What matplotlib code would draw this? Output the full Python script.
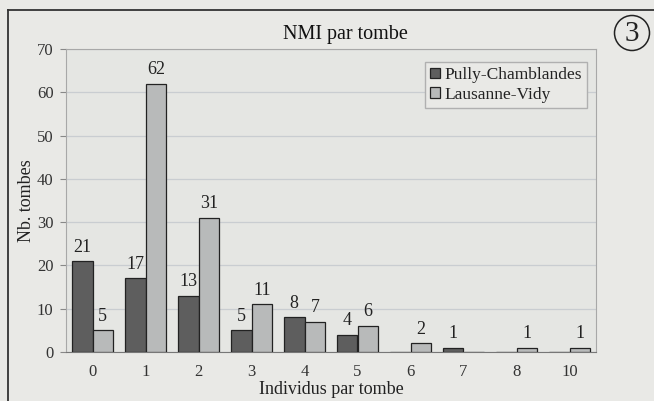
import matplotlib
matplotlib.use("Agg")
from matplotlib import pyplot as plt
from matplotlib.lines import Line2D
from matplotlib.patches import Ellipse
import numpy as np

categories = ["0", "1", "2", "3", "4", "5", "6", "7", "8", "10"]
pully = [21, 17, 13, 5, 8, 4, 0, 1, 0, 0]
lausanne = [5, 62, 31, 11, 7, 6, 2, 0, 1, 1]
series_names = ["Pully-Chamblandes", "Lausanne-Vidy"]
y_ticks = [0, 10, 20, 30, 40, 50, 60, 70]

plt.rcParams['font.family'] = ['Liberation Serif', 'DejaVu Serif']

paper = "#e9e9e6"
fig = plt.figure(figsize=(6.54, 4.01), dpi=100, facecolor=paper)
ax = fig.add_axes([66 / 654, 49 / 401, 530 / 654, 303 / 401])
ax.set_facecolor("#e5e6e3")

x = np.arange(len(categories))
w = 0.39
b1 = ax.bar(x - w / 2, pully, w, color="#5e5e5e", edgecolor="#222222", linewidth=0.9,
            label=series_names[0], zorder=3)
b2 = ax.bar(x + w / 2, lausanne, w, color="#b8baba", edgecolor="#222222", linewidth=0.9,
            label=series_names[1], zorder=3)

# value labels, none for empty bars
for bars, vals in ((b1, pully), (b2, lausanne)):
    for rect, v in zip(bars, vals):
        if v == 0:
            continue
        ax.annotate(str(v), (rect.get_x() + rect.get_width() / 2, v),
                    xytext=(0, 4), textcoords="offset points",
                    ha="center", va="bottom", fontsize=13, color="#222222")

ax.set_xlim(-0.5, len(categories) - 0.5)
ax.set_ylim(0, 70)
ax.set_yticks(y_ticks)
ax.set_xticks(x)
ax.set_xticklabels(categories)
ax.tick_params(axis="y", length=4, color="#888888", labelsize=12, labelcolor="#333333", pad=5)
ax.tick_params(axis="x", length=0, labelsize=12, labelcolor="#333333", pad=9)
ax.yaxis.grid(True, color="#c9cdd1", linewidth=0.9, zorder=0)
ax.set_axisbelow(True)
for side in ("top", "right", "left"):
    ax.spines[side].set_color("#a8a8a8")
ax.spines["bottom"].set_color("#777777")

ax.set_ylabel("Nb. tombes", fontsize=13, color="#222222", labelpad=1)
ax.set_xlabel("Individus par tombe", fontsize=13, color="#222222", labelpad=0)
fig.text(345 / 654, 1 - 35 / 401, "NMI par tombe", fontsize=14.5, color="#111111",
         ha="center", va="center")

leg = ax.legend(loc="upper right", bbox_to_anchor=(0.983, 0.957), borderaxespad=0,
                fontsize=12.5, handlelength=0.55, handleheight=0.55, handletextpad=0.25,
                borderpad=0.3, labelspacing=0.2, fancybox=False,
                framealpha=1, facecolor="#e9e9e6", edgecolor="#b0b0b0")
for t in leg.get_texts():
    t.set_color("#222222")

# outer chart frame
fig.add_artist(Line2D([8 / 654, 8 / 654], [0, 1 - 10 / 401], color="#333333", linewidth=1.3))
fig.add_artist(Line2D([8 / 654, 1], [1 - 10 / 401, 1 - 10 / 401], color="#333333", linewidth=1.3))

# circled figure number
fig.add_artist(Ellipse((632 / 654, 1 - 33 / 401), 35 / 654, 35 / 401, transform=fig.transFigure,
                       fill=False, edgecolor="#222222", linewidth=1.1))
fig.text(632 / 654, 1 - 34 / 401, "3", fontsize=21, ha="center", va="center", color="#222222")

fig.savefig("out.png", dpi=100, facecolor=paper)
